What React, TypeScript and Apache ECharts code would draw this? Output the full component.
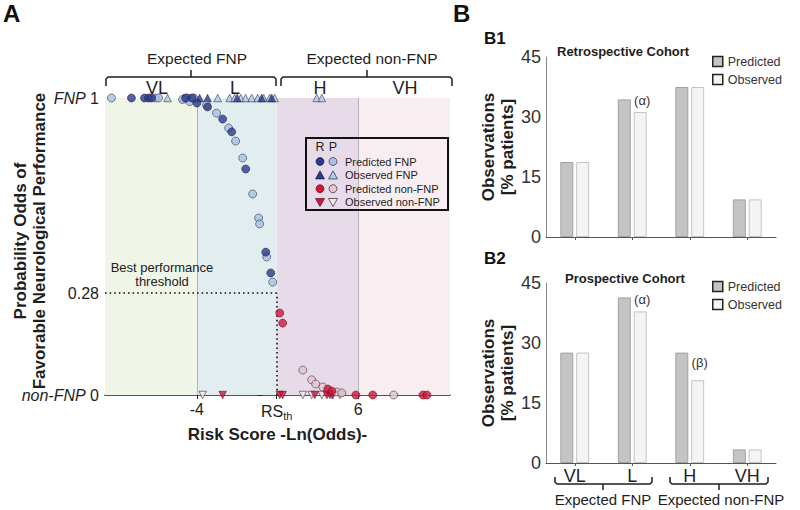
import React, { useEffect, useRef } from 'react';
import * as echarts from 'echarts';

// ---------------- Panel A data ----------------
const X_MIN = -9.7;
const X_MAX = 11.7;
const RS_TH = 0.95;
const THRESH_Y = 0.343; // plotted height of the 0.28 threshold
const zoneEdges = [X_MIN, -4, RS_TH, 6, X_MAX];
const zoneLabels = ['VL', 'L', 'H', 'VH'];
const xTickValues = [-4, RS_TH, 6];
const xTickLabels = ['-4', 'RS{sub|th}', '6'];
const yTickValues = [0, THRESH_Y, 1];
const yTickLabels = ['{i|non-FNP} 0', '0.28', '{i|FNP} 1'];

// R = retrospective (dark), P = prospective (light)
const retroPredFNP = [
  [-8.06, 1], [-7.25, 1], [-7.0, 1], [-6.81, 1], [-4.7, 1], [-4.3, 1],
  [-4.0, 0.983], [-3.34, 0.97], [-2.4, 0.929], [-1.84, 0.886], [-0.97, 0.761],
  [0.27, 0.481], [0.58, 0.411],
];
const prosPredFNP = [
  [-9.3, 1], [-6.56, 1], [-6.38, 1], [-4.6, 1], [-4.2, 1],
  [-4.89, 0.995], [-4.45, 0.988], [-3.4, 0.976], [-2.78, 0.949], [-2.03, 0.899],
  [-1.6, 0.855], [-1.16, 0.798], [-0.54, 0.677], [-0.17, 0.596], [-0.11, 0.576],
  [0.33, 0.465], [0.7, 0.38],
];
const retroObsFNP = [
  [-4.64, 1], [-3.83, 1], [-3.34, 1], [-1.5, 1], [0.02, 1], [0.64, 1],
];
const prosObsFNP = [
  [-5.82, 1], [-4.83, 1], [-4.45, 1], [-4.08, 1], [-2.71, 1], [-1.97, 1], [-1.66, 1],
  [-1.28, 1], [-0.98, 1], [-0.6, 1], [-0.23, 1], [0.14, 1], [0.51, 1], [0.82, 1],
  [3.43, 1], [3.75, 1],
];
const retroPredNon = [
  [1.14, 0.276], [1.32, 0.242], [4.12, 0.02], [4.37, 0.013],
  [5.86, 0], [6.91, 0], [10.02, 0], [10.27, 0],
];
const prosPredNon = [
  [2.57, 0.084], [3.12, 0.051], [3.37, 0.037], [3.81, 0.027], [4.68, 0.01], [4.99, 0.007],
  [8.21, 0],
];
const retroObsNon = [
  [-2.4, 0], [1.14, 0], [1.32, 0], [3.31, 0], [4.06, 0], [4.24, 0], [4.43, 0],
];
const prosObsNon = [
  [-3.64, 0], [2.57, 0], [3.12, 0], [3.75, 0], [4.37, 0], [4.87, 0],
];

// ---------------- Panel B data ----------------
const bCategories = ['VL', 'L', 'H', 'VH'];
const b1Predicted = [18.75, 34.4, 37.5, 9.4];
const b1Observed = [18.75, 31.25, 37.5, 9.4];
const b1Notes = ['', '(α)', '', ''];
const b2Predicted = [27.6, 41.4, 27.6, 3.4];
const b2Observed = [27.6, 37.9, 20.7, 3.4];
const b2Notes = ['', '(α)', '(β)', ''];
const B_MAX = 45;
const B_INTERVAL = 15;

// ---------------- styles ----------------
const FONT = '"Liberation Sans", Arial, Helvetica, sans-serif';
const INK = '#1e1e1e';
const zoneColors = ['#eff6e7', '#e2edf0', '#e8dbe9', '#f8edf0'];
const ST = {
  rC: { color: '#2d3a8c', borderColor: '#1b1f45', borderWidth: 0.7 },
  pC: { color: '#a8c1e2', borderColor: '#39405c', borderWidth: 0.8 },
  rN: { color: '#d0163a', borderColor: '#5c0f1f', borderWidth: 0.7 },
  pN: { color: '#e2c6d1', borderColor: '#4a3a42', borderWidth: 0.8 },
  pTriN: { color: '#f3e6ec', borderColor: '#4a3a42', borderWidth: 0.8 },
  pTriF: { color: '#b3cae6', borderColor: '#39405c', borderWidth: 0.8 },
};

function scatter(name: string, data: number[][], style: any, symbol: string, rotate = 0, size = 7.5) {
  return {
    type: 'scatter', name, xAxisIndex: 0, yAxisIndex: 0, data, symbol, symbolSize: size,
    symbolRotate: rotate, clip: false, z: 3, itemStyle: style, silent: true,
  };
}

function triPts(cx: number, cy: number, s: number, down: boolean) {
  const h = s * 0.5;
  return down
    ? [[cx - h, cy - h * 0.85], [cx + h, cy - h * 0.85], [cx, cy + h * 0.95]]
    : [[cx - h, cy + h * 0.85], [cx + h, cy + h * 0.85], [cx, cy - h * 0.95]];
}

function buildGraphic() {
  const g: any[] = [];
  // Panel A y-axis title
  g.push({ type: 'text', x: 20, y: 241, rotation: Math.PI / 2,
    style: { text: 'Probability Odds of', font: `bold 17px ${FONT}`, fill: INK, align: 'center', verticalAlign: 'middle' } });
  g.push({ type: 'text', x: 39, y: 241, rotation: Math.PI / 2,
    style: { text: 'Favorable Neurological Performance', font: `bold 17px ${FONT}`, fill: INK, align: 'center', verticalAlign: 'middle' } });

  // top brackets
  const topBr = [
    { x1: 106, x2: 276, xc: 191, label: 'Expected FNP', lx: 197 },
    { x1: 281, x2: 452, xc: 367, label: 'Expected non-FNP', lx: 372 },
  ];
  topBr.forEach((b) => {
    g.push({ type: 'polyline', shape: { points: [[b.x1, 86], [b.x1, 79], [b.x1 + 2, 77], [b.x2 - 2, 77], [b.x2, 79], [b.x2, 86]] },
      style: { stroke: INK, lineWidth: 1.5, fill: null } });
    g.push({ type: 'line', shape: { x1: b.xc, y1: 77, x2: b.xc, y2: 70 }, style: { stroke: INK, lineWidth: 1.5 } });
    g.push({ type: 'text', x: b.lx, y: 58, style: { text: b.label, font: `15.5px ${FONT}`, fill: INK, align: 'center', verticalAlign: 'middle' } });
  });
  const zoneLabelX = [157, 235, 320, 405];
  zoneLabels.forEach((z, i) => {
    g.push({ type: 'text', x: zoneLabelX[i], y: 88, style: { text: z, font: `18px ${FONT}`, fill: INK, align: 'center', verticalAlign: 'middle' } });
  });

  // threshold text
  g.push({ type: 'text', x: 162, y: 274, style: { text: 'Best performance\nthreshold', font: `13px ${FONT}`, lineHeight: 14, fill: '#222', align: 'center', verticalAlign: 'middle' }, z: 10 });

  // Panel A legend
  g.push({ type: 'rect', shape: { x: 306, y: 138, width: 142, height: 72 }, style: { fill: null, stroke: '#111', lineWidth: 2 }, z: 10 });
  g.push({ type: 'text', x: 320, y: 147, style: { text: 'R', font: `12.5px ${FONT}`, fill: INK, align: 'center', verticalAlign: 'middle' }, z: 10 });
  g.push({ type: 'text', x: 333, y: 147, style: { text: 'P', font: `12.5px ${FONT}`, fill: INK, align: 'center', verticalAlign: 'middle' }, z: 10 });
  const rows = [
    { t: 'Predicted FNP', r: ST.rC, p: ST.pC, shape: 'c' },
    { t: 'Observed FNP', r: ST.rC, p: ST.pTriF, shape: 'u' },
    { t: 'Predicted non-FNP', r: ST.rN, p: ST.pN, shape: 'c' },
    { t: 'Observed non-FNP', r: ST.rN, p: ST.pTriN, shape: 'd' },
  ];
  rows.forEach((row, i) => {
    const y = 161.5 + i * 13.6;
    [[320, row.r], [333, row.p]].forEach(([x, s]: any) => {
      const style = { fill: s.color, stroke: s.borderColor, lineWidth: s.borderWidth };
      if (row.shape === 'c') g.push({ type: 'circle', shape: { cx: x, cy: y, r: 4 }, style, z: 10 });
      else g.push({ type: 'polygon', shape: { points: triPts(x, y, 9, row.shape === 'd') }, style, z: 10 });
    });
    g.push({ type: 'text', x: 345, y, style: { text: row.t, font: `11px ${FONT}`, fill: INK, align: 'left', verticalAlign: 'middle' }, z: 10 });
  });

  // Panel B2 bottom brackets
  const botBr = [
    { x1: 555, x2: 652, xc: 603, label: 'Expected FNP', lx: 603 },
    { x1: 670, x2: 768, xc: 719, label: 'Expected non-FNP', lx: 721 },
  ];
  botBr.forEach((b) => {
    g.push({ type: 'polyline', shape: { points: [[b.x1, 477], [b.x1, 482], [b.x1 + 2, 484], [b.x2 - 2, 484], [b.x2, 482], [b.x2, 477]] },
      style: { stroke: INK, lineWidth: 1.5, fill: null } });
    g.push({ type: 'line', shape: { x1: b.xc, y1: 484, x2: b.xc, y2: 490 }, style: { stroke: INK, lineWidth: 1.5 } });
    g.push({ type: 'text', x: b.lx, y: 499, style: { text: b.label, font: `15px ${FONT}`, fill: INK, align: 'center', verticalAlign: 'middle' } });
  });
  return g;
}

function barPair(gi: number, pred: number[], obs: number[], notes: string[]) {
  return [
    {
      type: 'bar', name: 'Predicted', xAxisIndex: gi, yAxisIndex: gi, data: pred, barWidth: 13, barGap: '22%',
      itemStyle: { color: '#c4c4c4', borderColor: '#a2a2a2', borderWidth: 1 }, silent: true,
    },
    {
      type: 'bar', name: 'Observed', xAxisIndex: gi, yAxisIndex: gi, barWidth: 13, barGap: '22%',
      data: obs.map((v, i) => notes[i]
        ? { value: v, label: { show: true, formatter: notes[i], position: 'top', distance: notes[i] === '(β)' ? 11 : 5, offset: [2, 0] } }
        : v),
      label: { fontSize: 13, color: '#333', fontFamily: FONT },
      itemStyle: { color: '#f4f4f4', borderColor: '#c4c4c4', borderWidth: 1 }, silent: true,
    },
  ];
}

function bYAxis(gi: number) {
  return {
    gridIndex: gi, type: 'value', min: 0, max: B_MAX, interval: B_INTERVAL,
    splitLine: { show: false }, axisTick: { show: false },
    axisLine: { show: true, lineStyle: { color: '#8a8a8a', width: 1 } },
    axisLabel: { fontSize: 18, color: '#333', margin: 5, fontFamily: FONT },
    name: 'Observations\n[% patients]', nameLocation: 'middle', nameRotate: 90, nameGap: 24,
    nameTextStyle: { fontSize: 17, fontWeight: 'bold', color: INK, lineHeight: 19, fontFamily: FONT },
  };
}

function bXAxis(gi: number, showLabels: boolean) {
  return {
    gridIndex: gi, type: 'category', data: bCategories,
    axisLine: { lineStyle: { color: '#555', width: 1 } },
    axisTick: { show: true, alignWithLabel: true, length: 3, lineStyle: { color: '#555' } },
    axisLabel: { show: showLabels, fontSize: 18, color: INK, margin: 4, fontFamily: FONT },
  };
}

export default function App() {
  const ref = useRef<HTMLDivElement>(null);
  useEffect(() => {
    if (!ref.current) return;
    const chart = echarts.init(ref.current, null, { renderer: 'svg' });
    const option: any = {
      animation: false,
      backgroundColor: '#ffffff',
      textStyle: { fontFamily: FONT },
      title: [
        { text: 'A', left: 3, top: 1, padding: 0, textStyle: { fontSize: 24, fontWeight: 'bold', color: '#111', fontFamily: FONT } },
        { text: 'B', left: 453, top: 1, padding: 0, textStyle: { fontSize: 24, fontWeight: 'bold', color: '#111', fontFamily: FONT } },
        { text: 'B1', left: 484, top: 30, padding: 0, textStyle: { fontSize: 17, fontWeight: 'bold', color: '#111', fontFamily: FONT } },
        { text: 'B2', left: 484, top: 250, padding: 0, textStyle: { fontSize: 17, fontWeight: 'bold', color: '#111', fontFamily: FONT } },
        { text: 'Retrospective Cohort', left: 557, top: 45, padding: 0, textStyle: { fontSize: 13, fontWeight: 'bold', color: INK, fontFamily: FONT } },
        { text: 'Prospective Cohort', left: 565, top: 272, padding: 0, textStyle: { fontSize: 13, fontWeight: 'bold', color: INK, fontFamily: FONT } },
      ],
      legend: [0, 1].map((k) => ({
        left: 712, top: k === 0 ? 55 : 280, orient: 'vertical', icon: 'rect', itemWidth: 10, itemHeight: 10, itemGap: 5,
        padding: 0, data: ['Predicted', 'Observed'], selectedMode: false,
        itemStyle: { borderColor: '#222', borderWidth: 1.5 },
        textStyle: { fontSize: 12.5, color: '#333', fontFamily: FONT, padding: [0, 0, 0, 0] },
      })),
      grid: [
        { left: 105, top: 98, width: 345, height: 297, outerBoundsMode: 'none' },
        { left: 546, top: 57, width: 230, height: 180, outerBoundsMode: 'none' },
        { left: 546, top: 283, width: 230, height: 180, outerBoundsMode: 'none' },
      ],
      xAxis: [
        {
          gridIndex: 0, type: 'value', min: X_MIN, max: X_MAX, splitLine: { show: false },
          axisLine: { lineStyle: { color: INK, width: 1.5 } },
          axisTick: { show: true, customValues: xTickValues, length: 4, lineStyle: { color: INK } },
          axisLabel: {
            customValues: xTickValues, fontSize: 16, color: INK, margin: 6, fontFamily: FONT,
            formatter: (v: number) => xTickLabels[xTickValues.indexOf(v)] ?? '',
            rich: { sub: { fontSize: 11, color: INK, padding: [9, 0, 0, 0], fontFamily: FONT } },
          },
          name: 'Risk Score -Ln(Odds)-', nameLocation: 'middle', nameGap: 23,
          nameTextStyle: { fontSize: 17, fontWeight: 'bold', color: INK, fontFamily: FONT },
        },
        bXAxis(1, false),
        bXAxis(2, true),
      ],
      yAxis: [
        {
          gridIndex: 0, type: 'value', min: 0, max: 1, splitLine: { show: false },
          axisLine: { show: true, lineStyle: { color: INK, width: 1.5 } },
          axisTick: { show: true, customValues: yTickValues, length: 4, lineStyle: { color: INK } },
          axisLabel: {
            customValues: yTickValues, fontSize: 16, color: INK, margin: 6, fontFamily: FONT,
            formatter: (v: number) => yTickLabels[yTickValues.indexOf(v)] ?? '',
            rich: { i: { fontStyle: 'italic', fontSize: 16, color: INK, fontFamily: FONT } },
          },
        },
        bYAxis(1),
        bYAxis(2),
      ],
      graphic: buildGraphic(),
      series: [
        {
          type: 'scatter', name: 'zones', xAxisIndex: 0, yAxisIndex: 0, data: [], silent: true,
          markArea: {
            silent: true, z: 1,
            data: zoneLabels.map((_, i) => [
              { xAxis: zoneEdges[i], itemStyle: { color: zoneColors[i] } },
              { xAxis: zoneEdges[i + 1] },
            ]),
          },
          markLine: {
            silent: true, symbol: ['none', 'none'], z: 2, label: { show: false },
            data: [
              [{ coord: [-4, 0], lineStyle: { color: '#b4b4b4', width: 1, type: 'solid' } }, { coord: [-4, 1] }],
              [{ coord: [6, 0], lineStyle: { color: '#b4b4b4', width: 1, type: 'solid' } }, { coord: [6, 1] }],
              [{ coord: [X_MIN, THRESH_Y], lineStyle: { color: '#111', width: 1.6, type: [1.6, 3] } }, { coord: [RS_TH, THRESH_Y] }],
              [{ coord: [RS_TH, 0], lineStyle: { color: '#111', width: 1.6, type: [1.6, 3] } }, { coord: [RS_TH, THRESH_Y] }],
            ],
          },
        },
        scatter('Observed non-FNP (P)', prosObsNon, ST.pTriN, 'triangle', 180, 7.5),
        scatter('Observed non-FNP (R)', retroObsNon, ST.rN, 'triangle', 180, 7.5),
        scatter('Observed FNP (P)', prosObsFNP, ST.pTriF, 'triangle', 0, 7.5),
        scatter('Observed FNP (R)', retroObsFNP, ST.rC, 'triangle', 0, 7.5),
        scatter('Predicted FNP (P)', prosPredFNP, ST.pC, 'circle', 0, 8),
        scatter('Predicted FNP (R)', retroPredFNP, ST.rC, 'circle', 0, 8),
        scatter('Predicted non-FNP (P)', prosPredNon, ST.pN, 'circle', 0, 8),
        scatter('Predicted non-FNP (R)', retroPredNon, ST.rN, 'circle', 0, 8),
        ...barPair(1, b1Predicted, b1Observed, b1Notes),
        ...barPair(2, b2Predicted, b2Observed, b2Notes),
      ],
    };
    chart.setOption(option);
    return () => chart.dispose();
  }, []);
  return (
    <div
      ref={ref}
      style={{ position: 'fixed', left: 0, top: 0, width: 800, height: 510, background: '#fff' }}
    />
  );
}
